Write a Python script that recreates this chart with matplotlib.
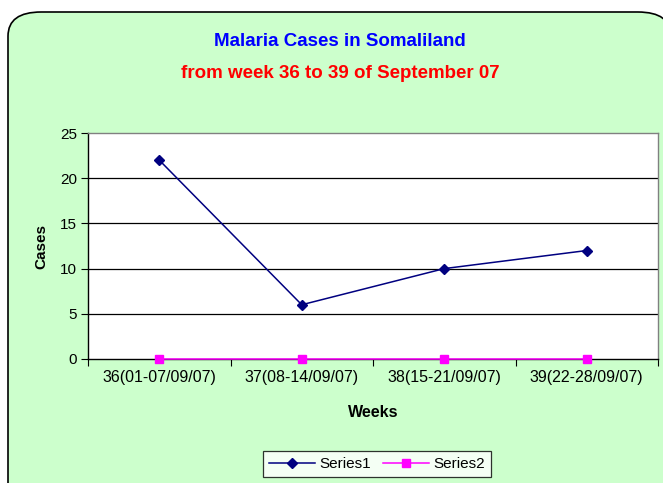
import matplotlib
matplotlib.use("Agg")
import matplotlib.pyplot as plt
from matplotlib.patches import FancyBboxPatch

plt.rcParams['font.family'] = ['Liberation Sans', 'DejaVu Sans']

weeks = ["36(01-07/09/07)", "37(08-14/09/07)", "38(15-21/09/07)", "39(22-28/09/07)"]
series1 = [22, 6, 10, 12]
series2 = [0, 0, 0, 0]
y_ticks = [0, 5, 10, 15, 20, 25]

fig = plt.figure(figsize=(6.63, 4.83), dpi=100)
fig.patch.set_facecolor('white')

# rounded green chart area, runs off the right and bottom edges
bg = FancyBboxPatch((8 / 663, -0.05), 1.0, 1 - 12 / 483 + 0.05,
                    boxstyle="round,pad=0,rounding_size=0.05",
                    transform=fig.transFigure, facecolor='#CCFFCC',
                    edgecolor='black', linewidth=1.2, zorder=-5)
fig.patches.append(bg)

ax = fig.add_axes([88 / 663, 1 - 359 / 483, 570 / 663, 226 / 483])
ax.set_zorder(2)
ax.set_facecolor('white')

x = [i + 0.5 for i in range(len(weeks))]
ax.plot(x, series1, color='#000080', marker='D', markersize=5.5, linewidth=1.1,
        label='Series1', zorder=3)
ax.plot(x, series2, color='#FF00FF', marker='s', markersize=6, linewidth=1.1,
        label='Series2', zorder=3, clip_on=False)

ax.set_xlim(0, len(weeks))
ax.set_ylim(0, 25)
ax.set_yticks(y_ticks)
ax.set_yticklabels([str(v) for v in y_ticks], fontsize=11)

# category boundary ticks, labels centred between them
ax.set_xticks(range(len(weeks) + 1))
ax.set_xticklabels([])
ax.set_xticks(x, minor=True)
ax.set_xticklabels(weeks, minor=True, fontsize=11.5)
ax.tick_params(axis='x', which='minor', length=0, pad=8)
ax.tick_params(axis='x', which='major', length=5, direction='out', color='black')
ax.tick_params(axis='y', length=5, direction='out', color='black', pad=3)

for v in y_ticks[1:-1]:
    ax.axhline(v, color='black', linewidth=0.9, zorder=1)

for side in ['top', 'right']:
    ax.spines[side].set_color('#808080')
    ax.spines[side].set_linewidth(1.0)
for side in ['left', 'bottom']:
    ax.spines[side].set_color('black')
    ax.spines[side].set_linewidth(1.0)

ax.set_ylabel('Cases', fontsize=11, fontweight='bold', labelpad=8)
ax.set_xlabel('Weeks', fontsize=11.5, fontweight='bold', labelpad=14)

fig.text(340 / 663, 1 - 42 / 483, 'Malaria Cases in Somaliland', color='#0000FF',
         fontsize=13.5, fontweight='bold', ha='center', va='center')
fig.text(340 / 663, 1 - 73 / 483, 'from week 36 to 39 of September 07', color='#FF0000',
         fontsize=13.5, fontweight='bold', ha='center', va='center')

leg = fig.legend(loc='center', bbox_to_anchor=(377 / 663, 1 - 464 / 483), ncol=2,
                 fontsize=11, frameon=True, fancybox=False, handlelength=3,
                 columnspacing=0.8, handletextpad=0.3, borderpad=0.4)
leg.get_frame().set_edgecolor('black')
leg.get_frame().set_linewidth(0.9)
leg.get_frame().set_facecolor('white')

fig.savefig('out.png', dpi=100)
